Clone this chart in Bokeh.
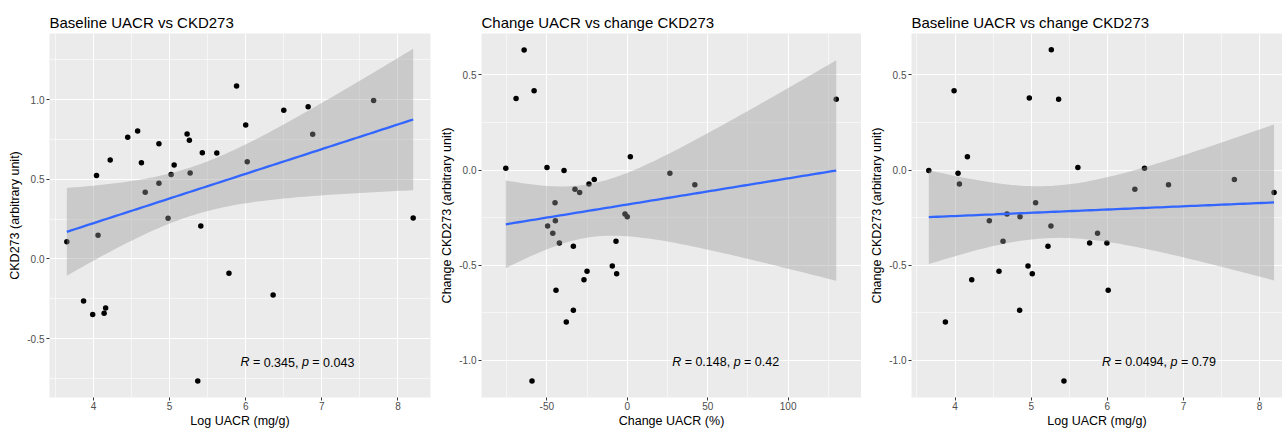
import numpy as np
from bokeh.plotting import figure
from bokeh.layouts import row
from bokeh.models import FixedTicker, PrintfTickFormatter, Label, Range1d
from bokeh.embed import file_html
from bokeh.resources import INLINE

# ---------------- data ----------------
# Panel 1: baseline log UACR vs CKD273
base_log_uacr = [3.65, 3.87, 3.99, 4.04, 4.06, 4.14, 4.16, 4.22, 4.45, 4.58, 4.63, 4.68,
                 4.86, 4.86, 4.98, 5.02, 5.06, 5.23, 5.26, 5.27, 5.37, 5.41, 5.43, 5.62,
                 5.78, 5.88, 6.00, 6.02, 6.36, 6.50, 6.82, 6.88, 7.68, 8.20]
base_ckd273 = [0.108, -0.263, -0.349, 0.523, 0.149, -0.340, -0.307, 0.620, 0.763, 0.803,
               0.604, 0.419, 0.722, 0.475, 0.255, 0.529, 0.589, 0.784, 0.745, 0.539,
               -0.766, 0.207, 0.666, 0.664, -0.089, 1.085, 0.840, 0.610, -0.226, 0.932,
               0.954, 0.782, 0.994, 0.257]

# Panel 2: change UACR (%) vs change CKD273
chg_uacr = [-75.5, -69.1, -64.1, -59.2, -57.9, -49.9, -49.5, -46.3, -44.9, -44.7, -44.3,
            -42.2, -39.3, -37.9, -33.5, -33.5, -32.5, -29.6, -26.9, -25.0, -23.8, -20.5,
            -9.3, -7.0, -6.6, -1.4, 0.0, 1.9, 26.5, 42.0, 129.9]
chg_ckd273 = [0.010, 0.377, 0.631, -1.108, 0.417, 0.014, -0.294, -0.332, -0.172, -0.266,
              -0.631, -0.383, -0.002, -0.798, -0.400, -0.736, -0.101, -0.117, -0.576,
              -0.532, -0.073, -0.049, -0.504, -0.374, -0.544, -0.231, -0.245, 0.070,
              -0.017, -0.077, 0.372]

# Panel 3: baseline log UACR vs change CKD273
base_log_uacr_3 = [3.655, 3.873, 3.987, 4.039, 4.057, 4.162, 4.219, 4.450, 4.577, 4.630,
                   4.682, 4.848, 4.853, 4.958, 4.975, 5.014, 5.058, 5.220, 5.259, 5.264,
                   5.360, 5.430, 5.613, 5.767, 5.871, 5.994, 6.011, 6.361, 6.488, 6.803,
                   7.668, 8.189]
chg_ckd273_3 = [-0.002, -0.798, 0.417, -0.017, -0.073, 0.070, -0.576, -0.266, -0.532,
                -0.374, -0.231, -0.736, -0.245, -0.504, 0.379, -0.544, -0.172, -0.400,
                -0.294, 0.633, 0.372, -1.108, 0.014, -0.383, -0.332, -0.383, -0.631,
                -0.101, 0.010, -0.077, -0.049, -0.117]

titles = ["Baseline UACR vs CKD273", "Change UACR vs change CKD273",
          "Baseline UACR vs change CKD273"]
x_labels = ["Log UACR (mg/g)", "Change UACR (%)", "Log UACR (mg/g)"]
y_labels = ["CKD273 (arbitrary unit)", "Change CKD273 (arbitrary unit)",
            "Change CKD273 (arbitrary unit)"]
r_values = ["0.345", "0.148", "0.0494"]
p_values = ["0.043", "0.42", "0.79"]

log_ticks = [4, 5, 6, 7, 8]
log_minor = [3.5, 4.5, 5.5, 6.5, 7.5, 8.5]
pct_ticks = [-50, 0, 50, 100]
pct_minor = [-75, -25, 25, 75, 125]
ckd_ticks = [-0.5, 0.0, 0.5, 1.0]
ckd_minor = [-0.75, -0.25, 0.25, 0.75, 1.25]
chg_ticks = [-1.0, -0.5, 0.0, 0.5]
chg_minor = [-1.25, -0.75, -0.25, 0.25]

# ---------------- styling / layout ----------------
FONT = "Liberation Sans"
H = 430
BG = "#EBEBEB"

ARIAL_W = {' ': 278, '=': 584, '.': 278, ',': 278, 'R': 722, 'p': 556}
for d in "0123456789":
    ARIAL_W[d] = 556


def text_width(s, size):
    return sum(ARIAL_W.get(c, 556) for c in s) / 1000.0 * size


def t975(df):
    z = 1.959964
    return (z + (z ** 3 + z) / (4 * df)
            + (5 * z ** 5 + 16 * z ** 3 + 3 * z) / (96 * df ** 2)
            + (3 * z ** 7 + 19 * z ** 5 + 17 * z ** 3 - 15 * z) / (384 * df ** 3))


def fit_band(x, y, num=80):
    x = np.asarray(x, float)
    y = np.asarray(y, float)
    n = len(x)
    b, a = np.polyfit(x, y, 1)
    resid = y - (a + b * x)
    s = np.sqrt(np.sum(resid ** 2) / (n - 2))
    xbar = x.mean()
    sxx = np.sum((x - xbar) ** 2)
    xs = np.linspace(x.min(), x.max(), num)
    yh = a + b * xs
    se = s * np.sqrt(1.0 / n + (xs - xbar) ** 2 / sxx)
    t = t975(n - 2)
    return xs, yh, yh - t * se, yh + t * se


def panel(i, x, y, xr, yr, xt, xm, yt, ym, w, bl, br, lab_x, lab_y):
    p = figure(width=w, height=H, x_range=Range1d(*xr), y_range=Range1d(*yr),
               output_backend="svg", toolbar_location=None,
               min_border_left=bl, min_border_right=br, min_border_top=33,
               min_border_bottom=30,
               background_fill_color=BG, border_fill_color="white",
               outline_line_color=None)
    p.title.text = titles[i]
    p.title.text_font = FONT
    p.title.text_font_size = "15px"
    p.title.text_font_style = "normal"
    p.title.text_color = "black"
    p.title.align = "left"
    p.title.standoff = 6
    p.title.offset = 0

    p.xaxis.ticker = FixedTicker(ticks=xt, minor_ticks=xm)
    p.yaxis.ticker = FixedTicker(ticks=yt, minor_ticks=ym)
    p.xaxis.formatter = PrintfTickFormatter(format="%d")
    p.yaxis.formatter = PrintfTickFormatter(format="%.1f")
    p.xaxis.axis_label = x_labels[i]
    p.yaxis.axis_label = y_labels[i]
    for ax in (p.xaxis, p.yaxis):
        ax.axis_line_color = None
        ax.major_tick_line_color = "#333333"
        ax.major_tick_line_width = 1
        ax.major_tick_out = 3
        ax.major_tick_in = 0
        ax.minor_tick_out = 0
        ax.minor_tick_in = 0
        ax.minor_tick_line_color = None
        ax.major_label_text_font = FONT
        ax.major_label_text_font_size = "10px"
        ax.major_label_text_color = "#4D4D4D"
        ax.axis_label_text_font = FONT
        ax.axis_label_text_font_size = "12.5px"
        ax.axis_label_text_font_style = "normal"
        ax.axis_label_text_color = "black"
    p.xaxis.major_label_standoff = 1
    p.xaxis.axis_label_standoff = 1
    p.yaxis.major_label_standoff = 2
    p.yaxis.axis_label_standoff = 2
    for g in (p.xgrid, p.ygrid):
        g.grid_line_color = "white"
        g.grid_line_width = 1.1
        g.minor_grid_line_color = "white"
        g.minor_grid_line_width = 0.55

    p.scatter(x, y, size=5.5, color="black", line_color=None)
    xs, yh, lo, hi = fit_band(x, y)
    p.varea(x=xs, y1=lo, y2=hi, fill_color="#999999", fill_alpha=0.4)
    p.line(xs, yh, line_color="#3366FF", line_width=2.3)

    # annotation "R = r, p = p" with italic R and p, laid out piece by piece
    fs = 12.5
    segs = [("R", "italic", ""), ("=", "normal", " "), (r_values[i] + ",", "normal", " "),
            ("p", "italic", " "), ("=", "normal", " "), (p_values[i], "normal", " ")]
    off = 0.0
    for s, style, pre in segs:
        off += text_width(pre, fs)
        p.add_layout(Label(x=lab_x, y=lab_y, x_offset=off, text=s,
                           text_font=FONT, text_font_size=f"{fs}px",
                           text_font_style=style, text_color="black",
                           text_baseline="alphabetic", text_align="left"))
        off += text_width(s, fs)
    return p


p1 = panel(0, base_log_uacr, base_ckd273, (3.4225, 8.4275), (-0.869, 1.414),
           log_ticks, log_minor, ckd_ticks, ckd_minor, 432, 49, 2, 5.93, -0.648)
p2 = panel(1, chg_uacr, chg_ckd273, (-90.6, 145.6), (-1.195, 0.718),
           pct_ticks, pct_minor, chg_ticks, chg_minor, 429, 49, 0, 27.9, -1.008)
p3 = panel(2, base_log_uacr_3, chg_ckd273_3, (3.428, 8.30), (-1.195, 0.718),
           log_ticks, log_minor, chg_ticks, chg_minor, 421, 50, 0, 5.93, -1.008)

layout = row(p1, p2, p3)
open("out.html", "w").write(file_html(layout, INLINE))
